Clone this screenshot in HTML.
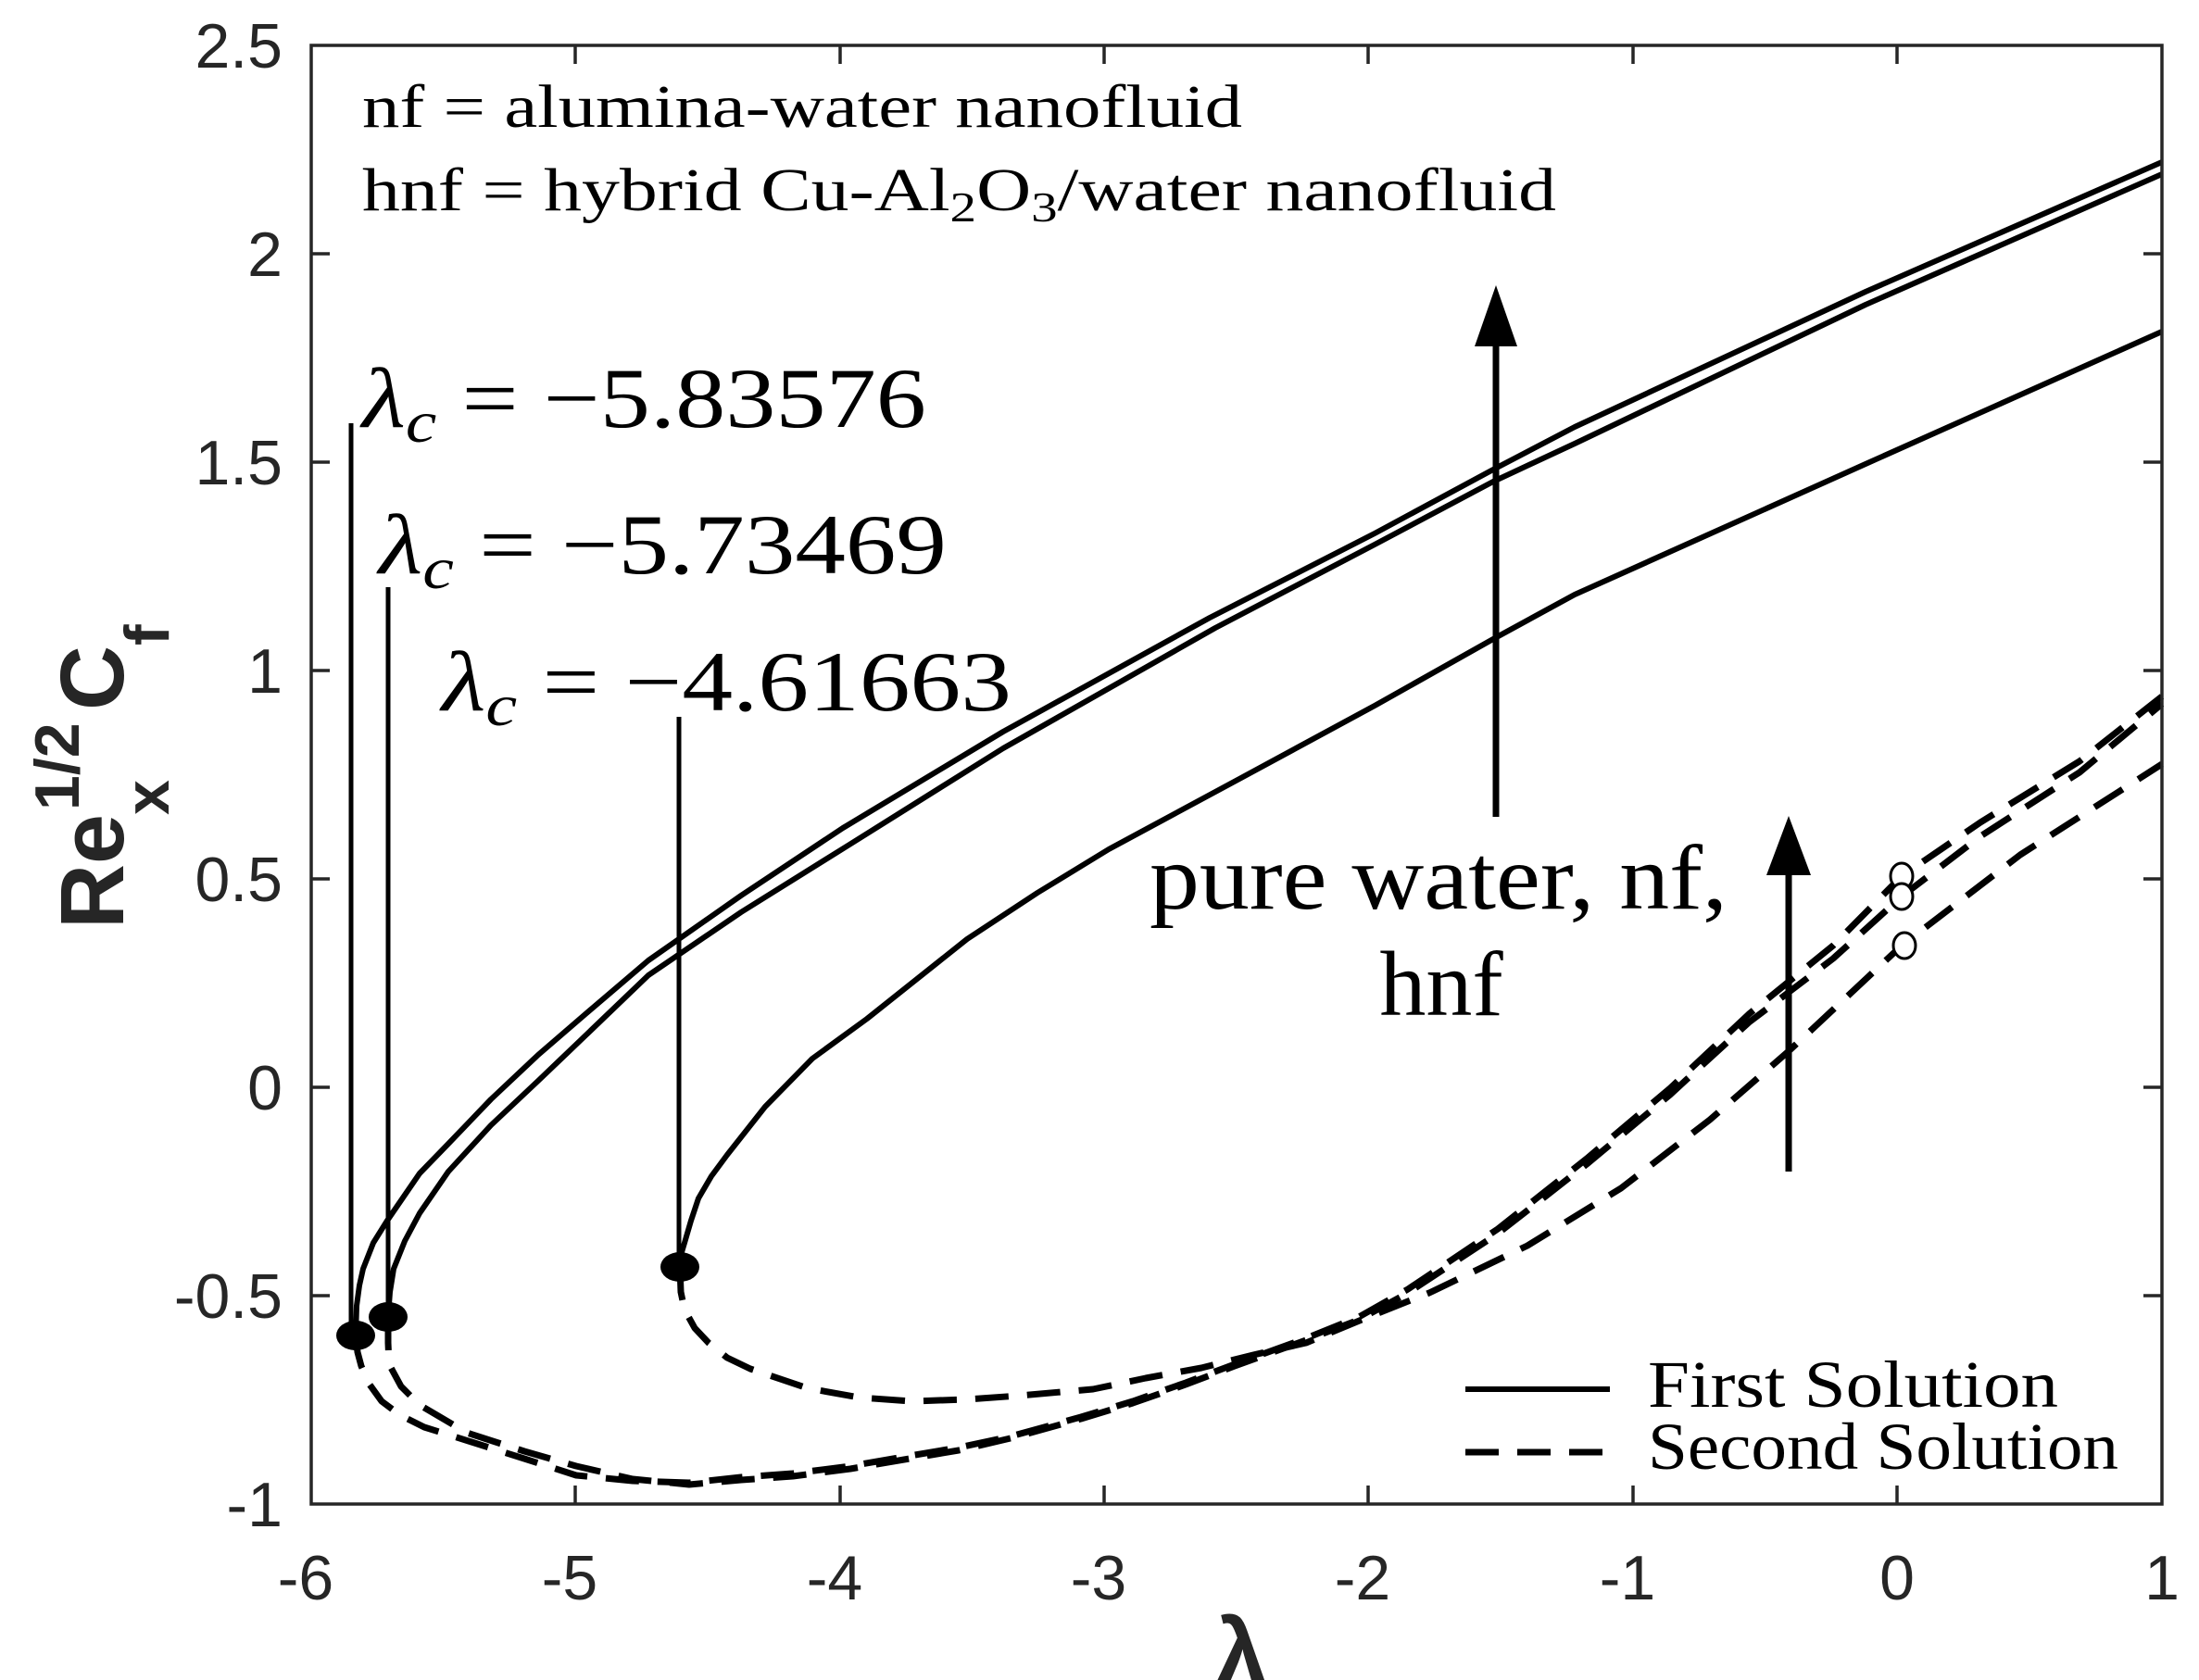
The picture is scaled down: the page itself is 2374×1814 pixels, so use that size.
<!DOCTYPE html>
<html><head><meta charset="utf-8"><style>html,body{margin:0;padding:0;background:#fff}svg{display:block}</style></head>
<body>
<svg width="2374" height="1814" viewBox="0 0 2374 1814" xmlns="http://www.w3.org/2000/svg">
<rect width="2374" height="1814" fill="#fff"/>
<g fill="none" stroke="#000" stroke-width="6" stroke-linejoin="round" stroke-linecap="butt">
<polyline points="384,1442 385,1410 388,1388 392,1370 403,1342 418,1318 453,1267 484,1235 530,1187 581,1139 632,1095 700,1037 800,967 910,894 1083,790 1306,667 1484,576 1612,507 1700,461 2014,315 2334,175"/>
<polyline points="419,1422 421,1395 425,1370 437,1340 453,1310 484,1265 530,1215 581,1167 627,1123 700,1053 800,985 917,912 1083,808 1312,678 1484,588 1612,520 1700,479 2014,329 2334,188"/>
<polyline points="734,1368 736,1352 739,1342 746,1318 754,1294 768,1270 785,1247 826,1195 877,1143 936,1100 990,1057 1044,1014 1120,964 1197,917 1338,841 1484,762 1612,690 1700,642 2014,501 2334,358"/>
<g stroke-dasharray="36 20" stroke-width="7">
<polyline points="384,1442 386,1460 390,1475 399,1495 412,1513 432,1528 458,1541 509,1557 566,1575 622,1593 683,1599 744,1601 800,1595 856,1591 918,1583 976,1573 1035,1563 1091,1551 1167,1530 1223,1513 1280,1493 1333,1473 1410,1445 1467,1422 1520,1392 1617,1327 1713,1251 1803,1175 1888,1095 1979,1021 2053,946 2138,888 2245,822 2334,752"/>
<polyline points="419,1422 419,1450 420,1473 433,1497 453,1517 504,1547 566,1567 622,1583 683,1597 744,1603 800,1598 856,1594 918,1586 976,1576 1035,1566 1091,1553 1167,1532 1223,1515 1280,1495 1333,1475 1410,1447 1467,1425 1520,1396 1617,1332 1713,1257 1803,1182 1888,1104 1979,1035 2053,968 2138,903 2245,834 2334,760"/>
<polyline points="734,1368 735,1395 739,1414 750,1434 765,1450 785,1466 810,1478 872,1499 928,1509 984,1513 1045,1511 1100,1507 1180,1500 1237,1488 1297,1477 1353,1463 1410,1450 1470,1425 1543,1396 1649,1345 1750,1283 1846,1209 1931,1135 2053,1021 2181,923 2334,825"/>
</g>
<line x1="379" y1="457" x2="379" y2="1442" stroke-width="5"/>
<line x1="419" y1="634" x2="419" y2="1422" stroke-width="5"/>
<line x1="733" y1="774" x2="733" y2="1368" stroke-width="5"/>
<line x1="1615" y1="882" x2="1615" y2="360" stroke-width="7"/>
<line x1="1931" y1="1265" x2="1931" y2="935" stroke-width="7"/>
<line x1="1582" y1="1500" x2="1738" y2="1500"/>
<line x1="1582" y1="1568" x2="1738" y2="1568" stroke-dasharray="36 20" stroke-width="7"/>
</g>
<polygon points="1615,308 1592,374 1638,374" fill="#000"/>
<polygon points="1931,881 1907,945 1955,945" fill="#000"/>
<ellipse cx="384" cy="1442" rx="21" ry="16" fill="#000"/>
<ellipse cx="419" cy="1422" rx="21" ry="16" fill="#000"/>
<ellipse cx="734" cy="1368" rx="21" ry="16" fill="#000"/>
<g fill="#fff" stroke="#000" stroke-width="3">
<ellipse cx="2053" cy="946" rx="12" ry="14"/>
<ellipse cx="2053" cy="968" rx="12" ry="14"/>
<ellipse cx="2056" cy="1021" rx="12" ry="14"/>
</g>
<g stroke="#262626" stroke-width="3.5" fill="none">
<rect x="336" y="49" width="1998" height="1575"/>
<path d="M336,274h20M336,499h20M336,724h20M336,949h20M336,1174h20M336,1399h20
M2334,274h-20M2334,499h-20M2334,724h-20M2334,949h-20M2334,1174h-20M2334,1399h-20
M621,1624v-20M907,1624v-20M1192,1624v-20M1477,1624v-20M1763,1624v-20M2048,1624v-20
M621,49v20M907,49v20M1192,49v20M1477,49v20M1763,49v20M2048,49v20"/>
</g>
<g font-family="Liberation Sans, Arial, sans-serif" font-size="68" fill="#262626">
<g text-anchor="end">
<text x="305" y="73">2.5</text>
<text x="305" y="298">2</text>
<text x="305" y="523">1.5</text>
<text x="305" y="748">1</text>
<text x="305" y="973">0.5</text>
<text x="305" y="1198">0</text>
<text x="305" y="1423">-0.5</text>
<text x="305" y="1648">-1</text>
</g>
<g text-anchor="middle">
<text x="330" y="1727">-6</text>
<text x="615" y="1727">-5</text>
<text x="901" y="1727">-4</text>
<text x="1186" y="1727">-3</text>
<text x="1471" y="1727">-2</text>
<text x="1757" y="1727">-1</text>
<text x="2048" y="1727">0</text>
<text x="2334" y="1727">1</text>
</g>
<text x="1340" y="1818" text-anchor="middle" font-size="100" font-weight="bold">λ</text>
<g font-weight="bold">
<text transform="translate(133,1003) rotate(-90)" font-size="97">Re</text>
<text transform="translate(85,875) rotate(-90)" font-size="68">1/2</text>
<text transform="translate(182,880) rotate(-90)" font-size="68">x</text>
<text transform="translate(133,767) rotate(-90)" font-size="97">C</text>
<text transform="translate(182,697) rotate(-90)" font-size="68">f</text>
</g>
</g>
<g font-family="Liberation Serif, Times New Roman, serif" fill="#000">
<text x="391" y="137" font-size="66" textLength="950" lengthAdjust="spacingAndGlyphs">nf = alumina-water nanofluid</text>
<text x="391" y="227" font-size="66" textLength="1289" lengthAdjust="spacingAndGlyphs">hnf = hybrid Cu-Al<tspan font-size="46" dy="12">2</tspan><tspan dy="-12">O</tspan><tspan font-size="46" dy="12">3</tspan><tspan dy="-12">/water nanofluid</tspan></text>
<text x="391" y="461" font-size="92" textLength="609" lengthAdjust="spacingAndGlyphs"><tspan font-style="italic">λ</tspan><tspan font-size="64" font-style="italic" dy="16">c</tspan><tspan dy="-16"> = −5.83576</tspan></text>
<text x="409" y="619" font-size="92" textLength="613" lengthAdjust="spacingAndGlyphs"><tspan font-style="italic">λ</tspan><tspan font-size="64" font-style="italic" dy="16">c</tspan><tspan dy="-16"> = −5.73469</tspan></text>
<text x="477" y="767" font-size="92" textLength="615" lengthAdjust="spacingAndGlyphs"><tspan font-style="italic">λ</tspan><tspan font-size="64" font-style="italic" dy="16">c</tspan><tspan dy="-16"> = −4.61663</tspan></text>
<text x="1241" y="981" font-size="100" textLength="624" lengthAdjust="spacingAndGlyphs">pure water, nf,</text>
<text x="1556" y="1096" font-size="100" text-anchor="middle">hnf</text>
<text x="1779" y="1519" font-size="72" textLength="443" lengthAdjust="spacingAndGlyphs">First Solution</text>
<text x="1779" y="1586" font-size="72" textLength="508" lengthAdjust="spacingAndGlyphs">Second Solution</text>
</g>
</svg>
</body></html>
